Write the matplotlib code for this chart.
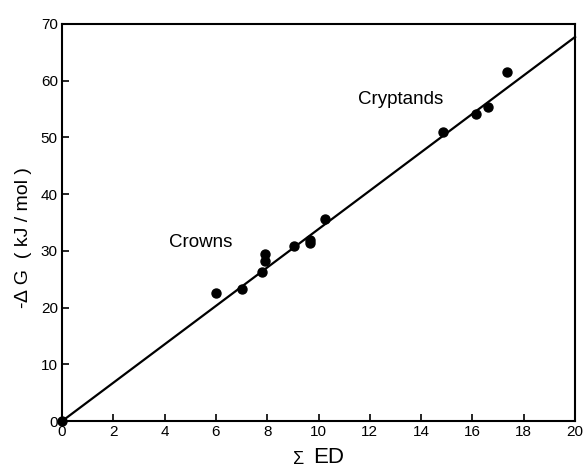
import matplotlib.pyplot as plt

# data
ed = [0.0, 6.0, 7.0, 7.8, 7.9, 7.9, 9.05, 9.65, 9.65, 10.25, 14.85, 16.15, 16.6, 17.35]
dg = [0.0, 22.6, 23.3, 26.3, 28.2, 29.4, 30.9, 31.4, 31.9, 35.6, 51.0, 54.1, 55.4, 61.5]
fit_x = [0, 20]
fit_slope = 3.385

xticks = [0, 2, 4, 6, 8, 10, 12, 14, 16, 18, 20]
yticks = [0, 10, 20, 30, 40, 50, 60, 70]

plt.rcParams['font.family'] = ['Liberation Sans', 'DejaVu Sans']

W, H = 585, 469
fig = plt.figure(figsize=(W / 100, H / 100), dpi=100)
ax = fig.add_axes([0.106, 0.102, 0.877, 0.847])

ax.plot(fit_x, [fit_slope * x for x in fit_x], color="black", lw=1.6, clip_on=False)
ax.scatter(ed, dg, s=42, color="black", zorder=3, clip_on=False)

ax.text(5.4, 31.4, "Crowns", fontsize=13.5, ha="center", va="center")
ax.text(11.55, 56.6, "Cryptands", fontsize=13.5, ha="left", va="center")

ax.set_xlim(0, 20)
ax.set_ylim(0, 70)
ax.set_xticks(xticks)
ax.set_yticks(yticks)
ax.tick_params(direction="in", length=5, width=1.2, labelsize=11, pad=3)
for s in ax.spines.values():
    s.set_linewidth(1.5)

# axis titles placed by hand (pixel positions from the reference)
fig.text(299 / W, 1 - 459 / H, "Σ", fontsize=13, ha="center", va="center")
fig.text(329 / W, 1 - 457 / H, "ED", fontsize=16, ha="center", va="center")
fig.text(23 / W, 1 - 238 / H, "-∆ G  ( kJ / mol )", fontsize=14, rotation=90,
         ha="center", va="center")

fig.savefig("out.png", dpi=100)
